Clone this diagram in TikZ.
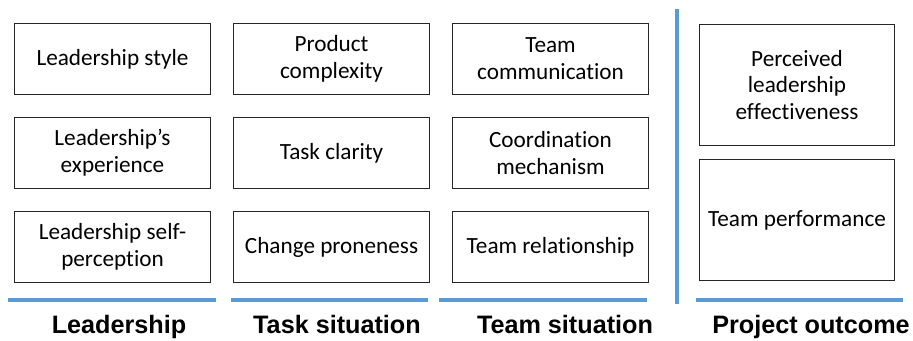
\documentclass[tikz,border=0pt]{standalone}
\usepackage{fontspec}
\setmainfont{Carlito}[Ligatures=NoCommon]
\newfontfamily\labelfont{Liberation Sans}
\usetikzlibrary{positioning}
\definecolor{barblue}{RGB}{91,155,213}
\tikzstyle{factor}=[draw=black!85, line width=1bp, align=center, minimum width=196bp, minimum height=71bp, inner sep=2bp, font=\fontsize{23.3}{27}\selectfont]
\tikzstyle{outcome}=[factor, minimum width=195bp, minimum height=121bp]
\tikzstyle{bar}=[barblue, line width=4bp]
\tikzstyle{group}=[font=\labelfont\bfseries\fontsize{25.3}{28}\selectfont, inner sep=0, anchor=base]

\begin{document}
\begin{tikzpicture}[x=1bp,y=-1bp]
    \useasboundingbox (0,0) rectangle (913,340);

    % leadership
    \node [factor, anchor=north west] (a1) at (14,23) {Leadership style};
    \node [factor] (a2) [below=22bp of a1] {Leadership's\\experience};
    \node [factor] (a3) [below=22bp of a2] {Leadership self-\\perception};
    % task situation
    \node [factor] (b1) [right=22bp of a1] {Product\\complexity};
    \node [factor] (b2) [below=22bp of b1] {Task clarity};
    \node [factor] (b3) [below=22bp of b2] {Change proneness};
    % team situation
    \node [factor] (c1) [right=22bp of b1] {Team\\communication};
    \node [factor] (c2) [below=22bp of c1] {Coordination\\mechanism};
    \node [factor] (c3) [below=22bp of c2] {Team relationship};
    % project outcome
    \node [outcome, anchor=north west] (d1) at (699,24) {Perceived\\leadership\\effectiveness};
    \node [outcome] (d2) [below=13bp of d1] {Team performance};

    \draw [bar] (8,300) -- (216,300);
    \draw [bar] (231,300) -- (428,300);
    \draw [bar] (439,300) -- (647,300);
    \draw [bar] (696,300) -- (903,300);
    \draw [bar] (677,9) -- (677,304);

    \node [group] (ga) at (119,333) {Leadership};
    \node [group] (gb) at (337,333) {Task situation};
    \node [group] (gc) at (565,333) {Team situation};
    \node [group] (gd) at (811,333) {Project outcome};
\end{tikzpicture}
\end{document}
